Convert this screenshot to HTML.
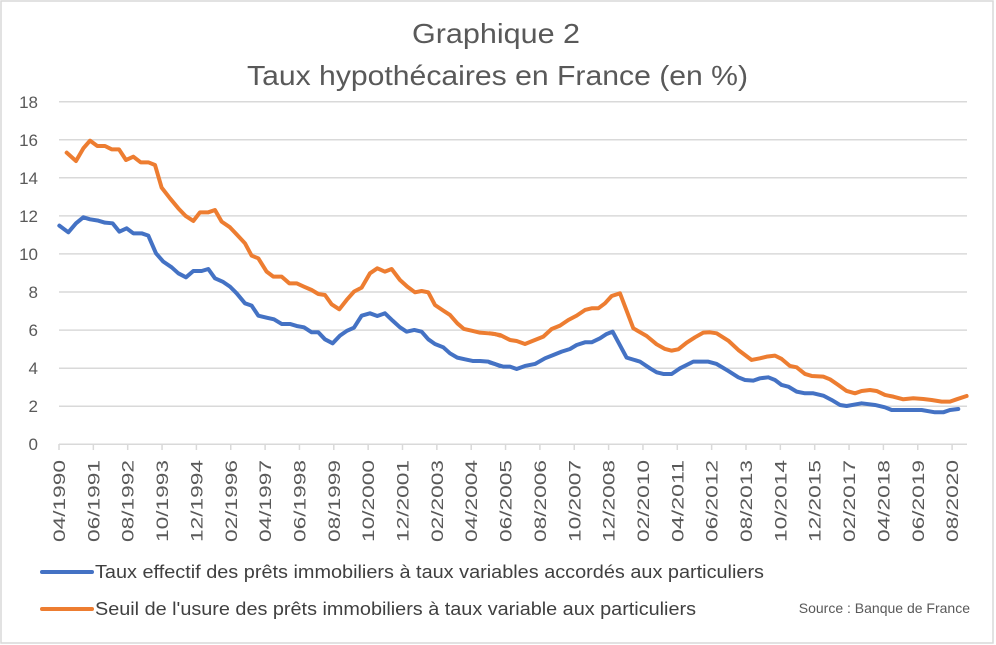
<!DOCTYPE html>
<html><head><meta charset="utf-8"><style>
html,body{margin:0;padding:0;background:#fff}
svg{display:block;font-family:"Liberation Sans",sans-serif}
</style></head><body>
<svg width="996" height="645" viewBox="0 0 996 645" xmlns="http://www.w3.org/2000/svg">
<rect x="1" y="1" width="992" height="642" fill="#fff" stroke="#d9d9d9" stroke-width="1.5"/>
<text x="412" y="43" font-size="28" fill="#595959" textLength="168" lengthAdjust="spacingAndGlyphs">Graphique 2</text>
<text x="247" y="85" font-size="28" fill="#595959" textLength="501" lengthAdjust="spacingAndGlyphs">Taux hypothécaires en France (en %)</text>
<g stroke="#d9d9d9" stroke-width="1.5">
<line x1="59" x2="967" y1="101.7" y2="101.7"/>
<line x1="59" x2="967" y1="139.8" y2="139.8"/>
<line x1="59" x2="967" y1="177.8" y2="177.8"/>
<line x1="59" x2="967" y1="215.9" y2="215.9"/>
<line x1="59" x2="967" y1="253.9" y2="253.9"/>
<line x1="59" x2="967" y1="292" y2="292"/>
<line x1="59" x2="967" y1="330.1" y2="330.1"/>
<line x1="59" x2="967" y1="368.2" y2="368.2"/>
<line x1="59" x2="967" y1="406.2" y2="406.2"/>
<line x1="59" x2="967" y1="444.3" y2="444.3"/>
</g>
<g font-size="17" fill="#595959" text-anchor="end">
<text x="38" y="108">18</text><text x="38" y="146">16</text><text x="38" y="184">14</text>
<text x="38" y="222">12</text><text x="38" y="260">10</text><text x="38" y="298">8</text>
<text x="38" y="336">6</text><text x="38" y="374">4</text><text x="38" y="412">2</text><text x="38" y="450">0</text>
</g>
<g stroke="#d9d9d9" stroke-width="1.5">
<path d="M59 444v6M93.35 444v6M127.7 444v6M162.05 444v6M196.4 444v6M230.75 444v6M265.1 444v6M299.45 444v6M333.8 444v6M368.15 444v6M402.5 444v6M436.85 444v6M471.2 444v6M505.55 444v6M539.9 444v6M574.25 444v6M608.6 444v6M642.95 444v6M677.3 444v6M711.65 444v6M746 444v6M780.35 444v6M814.7 444v6M849.05 444v6M883.4 444v6M917.75 444v6M952.1 444v6"/>
</g>
<g font-size="17" fill="#595959" text-anchor="end">
<text transform="translate(65,460) rotate(-90)" textLength="82" lengthAdjust="spacingAndGlyphs">04/1990</text>
<text transform="translate(99.35,460) rotate(-90)" textLength="82" lengthAdjust="spacingAndGlyphs">06/1991</text>
<text transform="translate(133.7,460) rotate(-90)" textLength="82" lengthAdjust="spacingAndGlyphs">08/1992</text>
<text transform="translate(168.05,460) rotate(-90)" textLength="82" lengthAdjust="spacingAndGlyphs">10/1993</text>
<text transform="translate(202.4,460) rotate(-90)" textLength="82" lengthAdjust="spacingAndGlyphs">12/1994</text>
<text transform="translate(236.75,460) rotate(-90)" textLength="82" lengthAdjust="spacingAndGlyphs">02/1996</text>
<text transform="translate(271.1,460) rotate(-90)" textLength="82" lengthAdjust="spacingAndGlyphs">04/1997</text>
<text transform="translate(305.45,460) rotate(-90)" textLength="82" lengthAdjust="spacingAndGlyphs">06/1998</text>
<text transform="translate(339.8,460) rotate(-90)" textLength="82" lengthAdjust="spacingAndGlyphs">08/1999</text>
<text transform="translate(374.15,460) rotate(-90)" textLength="82" lengthAdjust="spacingAndGlyphs">10/2000</text>
<text transform="translate(408.5,460) rotate(-90)" textLength="82" lengthAdjust="spacingAndGlyphs">12/2001</text>
<text transform="translate(442.85,460) rotate(-90)" textLength="82" lengthAdjust="spacingAndGlyphs">02/2003</text>
<text transform="translate(477.2,460) rotate(-90)" textLength="82" lengthAdjust="spacingAndGlyphs">04/2004</text>
<text transform="translate(511.55,460) rotate(-90)" textLength="82" lengthAdjust="spacingAndGlyphs">06/2005</text>
<text transform="translate(545.9,460) rotate(-90)" textLength="82" lengthAdjust="spacingAndGlyphs">08/2006</text>
<text transform="translate(580.25,460) rotate(-90)" textLength="82" lengthAdjust="spacingAndGlyphs">10/2007</text>
<text transform="translate(614.6,460) rotate(-90)" textLength="82" lengthAdjust="spacingAndGlyphs">12/2008</text>
<text transform="translate(648.95,460) rotate(-90)" textLength="82" lengthAdjust="spacingAndGlyphs">02/2010</text>
<text transform="translate(683.3,460) rotate(-90)" textLength="82" lengthAdjust="spacingAndGlyphs">04/2011</text>
<text transform="translate(717.65,460) rotate(-90)" textLength="82" lengthAdjust="spacingAndGlyphs">06/2012</text>
<text transform="translate(752,460) rotate(-90)" textLength="82" lengthAdjust="spacingAndGlyphs">08/2013</text>
<text transform="translate(786.35,460) rotate(-90)" textLength="82" lengthAdjust="spacingAndGlyphs">10/2014</text>
<text transform="translate(820.7,460) rotate(-90)" textLength="82" lengthAdjust="spacingAndGlyphs">12/2015</text>
<text transform="translate(855.05,460) rotate(-90)" textLength="82" lengthAdjust="spacingAndGlyphs">02/2017</text>
<text transform="translate(889.4,460) rotate(-90)" textLength="82" lengthAdjust="spacingAndGlyphs">04/2018</text>
<text transform="translate(923.75,460) rotate(-90)" textLength="82" lengthAdjust="spacingAndGlyphs">06/2019</text>
<text transform="translate(958.1,460) rotate(-90)" textLength="82" lengthAdjust="spacingAndGlyphs">08/2020</text>
</g>
<g fill="none" stroke-width="4" stroke-linejoin="round" stroke-linecap="round">
<g transform="translate(0,90) scale(0.3333)">
<polyline vector-effect="non-scaling-stroke" stroke="#ed7d31" points="200,188 228,213 250,175 270,152 292,168 315,168 335,178 357,178 378,210 400,200 422,217 445,217 465,225 485,293 510,325 535,355 557,378 580,393 600,367 625,367 645,360 665,395 690,412 710,433 735,460 755,497 775,505 800,545 820,560 845,560 868,580 890,580 912,590 935,600 955,612 975,615 995,643 1018,658 1040,630 1062,605 1085,593 1110,550 1132,535 1155,545 1175,537 1200,570 1222,590 1245,607 1265,603 1285,607 1305,645 1330,662 1350,675 1372,700 1392,717 1415,722 1440,728 1465,730 1485,732 1500,737"/>
<polyline vector-effect="non-scaling-stroke" stroke="#4472c4" points="178,407 205,427 228,400 250,382 270,388 295,392 315,398 338,400 358,425 380,415 400,430 425,430 445,437 468,490 490,515 515,532 535,550 558,562 580,543 605,543 625,537 645,565 668,575 690,590 710,610 735,640 755,647 775,677 800,683 822,688 845,702 870,702 890,708 912,712 935,727 955,727 975,748 998,760 1020,737 1040,723 1062,713 1085,677 1110,670 1132,678 1155,670 1178,692 1200,712 1220,725 1243,720 1265,725 1285,748 1305,762 1330,772 1350,790 1372,803 1395,808 1418,813 1440,813 1465,815 1485,822 1500,828"/>
</g>
<g transform="translate(490,90) scale(0.3333)">
<polyline vector-effect="non-scaling-stroke" stroke="#ed7d31" points="0,730 30,735 60,750 80,753 105,762 130,752 160,740 185,717 210,707 235,690 260,677 285,660 305,655 325,655 345,640 365,618 390,610 430,715 470,738 500,763 525,777 545,782 565,778 590,758 615,742 640,728 660,727 680,730 715,752 745,780 785,810 810,805 830,800 855,797 875,807 900,828 920,832 945,852 965,858 1000,860 1020,868 1045,885 1070,903 1095,910 1115,903 1140,900 1160,903 1185,915 1210,920 1240,928 1270,925 1300,927 1325,930 1355,935 1380,935 1400,928 1430,918"/>
<polyline vector-effect="non-scaling-stroke" stroke="#4472c4" points="0,818 40,830 60,830 80,837 105,828 135,822 165,805 190,795 215,785 240,777 260,765 285,757 305,757 330,745 350,732 368,725 410,803 450,815 480,835 500,847 520,852 545,852 570,835 610,815 655,815 680,822 715,843 745,862 765,870 790,872 810,865 835,862 855,870 875,885 895,890 920,905 945,910 970,910 1000,917 1025,930 1050,945 1070,948 1115,940 1155,945 1185,952 1205,960 1240,960 1295,960 1335,967 1360,967 1380,960 1405,957"/>
</g>
</g>
<line x1="42" x2="92" y1="572" y2="572" stroke="#4472c4" stroke-width="4" stroke-linecap="round"/>
<line x1="42" x2="92" y1="609" y2="609" stroke="#ed7d31" stroke-width="4" stroke-linecap="round"/>
<g font-size="18" fill="#404040">
<text x="95" y="578" textLength="669" lengthAdjust="spacingAndGlyphs">Taux effectif des prêts immobiliers à taux variables accordés aux particuliers</text>
<text x="95" y="615" textLength="601" lengthAdjust="spacingAndGlyphs">Seuil de l'usure des prêts immobiliers à taux variable aux particuliers</text>
</g>
<text x="970" y="613" text-anchor="end" font-size="14" fill="#595959">Source : Banque de France</text>
</svg>
</body></html>
